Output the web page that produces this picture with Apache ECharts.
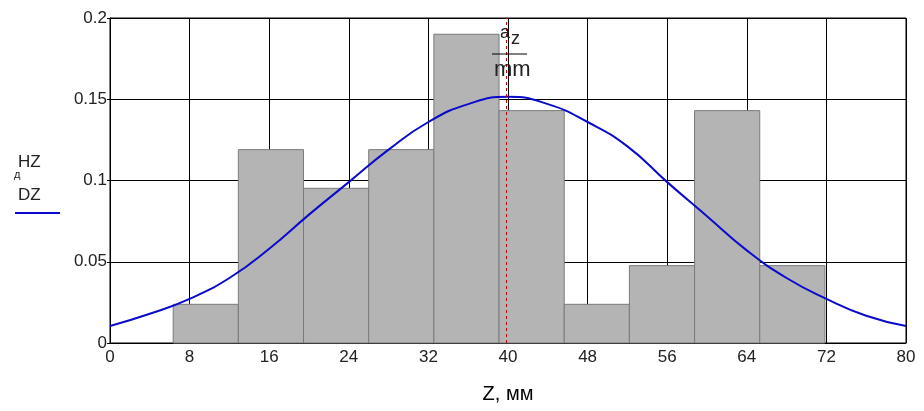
<!DOCTYPE html>
<html>
<head>
<meta charset="utf-8">
<script src="https://cdn.jsdelivr.net/npm/echarts@6/dist/echarts.min.js"></script>
<style>html,body{margin:0;padding:0;background:#fff;}#c{width:924px;height:411px;}</style>
</head>
<body>
<div id="c"></div>
<script>
// Histogram bins: left edge, right edge (mm), relative frequency
const binStart = [6.35, 12.9, 19.45, 26.0, 32.55, 39.1, 45.65, 52.2, 58.75, 65.3];
const binEnd   = [12.9, 19.45, 26.0, 32.55, 39.1, 45.65, 52.2, 58.75, 65.3, 71.85];
const binFreq  = [0.0238, 0.119, 0.0952, 0.119, 0.190, 0.143, 0.0238, 0.0476, 0.143, 0.0476];
// Density curve points
const curveZ = [0, 4, 8, 12, 16, 20, 24, 28, 32, 36, 40, 44, 48, 52, 56, 60, 64, 68, 72, 76, 80];
const curveV = [0.0105, 0.0180, 0.0272, 0.0400, 0.0580, 0.0790, 0.0990, 0.1190, 0.1360, 0.1470, 0.1515,
                0.1470, 0.1360, 0.1210, 0.0990, 0.0780, 0.0570, 0.0400, 0.0272, 0.0168, 0.0105];
const meanZ = 39.8;
const xTicks = [0, 8, 16, 24, 32, 40, 48, 56, 64, 72, 80];
const yTicks = [0, 0.05, 0.1, 0.15, 0.2];
const yTickLabels = ['0', '0.05', '0.1', '0.15', '0.2'];

const chart = echarts.init(document.getElementById('c'));
const font = 'Liberation Sans, Arial, sans-serif';
const txt = '#222';

const barData = binStart.map((s, i) => [s, binEnd[i], binFreq[i]]);
const lineData = curveZ.map((z, i) => [z, curveV[i]]);

chart.setOption({
  animation: false,
  grid: { left: 110, right: 18, top: 18, bottom: 68, show: true, borderColor: '#000', borderWidth: 1, containLabel: false },
  xAxis: {
    type: 'value', min: xTicks[0], max: xTicks[xTicks.length - 1], interval: 8,
    name: 'Z, мм', nameLocation: 'middle', nameGap: 41,
    nameTextStyle: { fontFamily: font, fontSize: 20, color: '#000' },
    axisLine: { show: true, lineStyle: { color: '#000', width: 1 } },
    axisTick: { show: false },
    axisLabel: { fontFamily: font, fontSize: 17, color: txt, margin: 6, formatter: v => String(v) },
    splitLine: { show: true, lineStyle: { color: '#000', width: 1 } }
  },
  yAxis: {
    type: 'value', min: 0, max: 0.2, interval: 0.05,
    axisLine: { show: true, lineStyle: { color: '#000', width: 1 } },
    axisTick: { show: true, length: 3, lineStyle: { color: '#000' } },
    axisLabel: { fontFamily: font, fontSize: 17, color: txt, margin: 3,
      formatter: v => { const i = yTicks.findIndex(t => Math.abs(t - v) < 1e-9); return i >= 0 ? yTickLabels[i] : ''; } },
    splitLine: { show: true, lineStyle: { color: '#000', width: 1 } }
  },
  series: [
    {
      type: 'custom',
      data: barData,
      encode: { x: [0, 1], y: 2 },
      renderItem: function (params, api) {
        const p0 = api.coord([api.value(0), api.value(2)]);
        const p1 = api.coord([api.value(1), 0]);
        return {
          type: 'rect',
          shape: { x: p0[0], y: p0[1], width: p1[0] - p0[0], height: p1[1] - p0[1] },
          style: { fill: '#b4b4b4', stroke: '#7a7a7a', lineWidth: 1 }
        };
      },
      z: 2
    },
    {
      type: 'line',
      data: lineData,
      smooth: true,
      showSymbol: false,
      lineStyle: { color: '#0a0acc', width: 2 },
      z: 4,
      markLine: {
        silent: true, symbol: 'none', label: { show: false },
        lineStyle: { color: '#cc0000', type: [3, 3], width: 1 },
        data: [{ xAxis: meanZ }]
      }
    }
  ],
  graphic: [
    { type: 'text', left: 18, top: 154, style: { text: 'HZ', font: '17px ' + font, fill: txt } },
    { type: 'text', left: 14, top: 169, style: { text: 'д', font: '11px ' + font, fill: txt } },
    { type: 'text', left: 18, top: 187, style: { text: 'DZ', font: '17px ' + font, fill: txt } },
    { type: 'line', shape: { x1: 15, y1: 213, x2: 60, y2: 213 }, style: { stroke: '#0a0acc', lineWidth: 2 } },
    { type: 'text', left: 500, top: 24, z: 10, style: { text: 'a', font: '18px ' + font, fill: txt } },
    { type: 'text', left: 511, top: 30, z: 10, style: { text: 'z', font: '18px ' + font, fill: txt } },
    { type: 'line', z: 10, shape: { x1: 492, y1: 54, x2: 527, y2: 54 }, style: { stroke: '#000', lineWidth: 1 } },
    { type: 'text', left: 494, top: 59, z: 10, style: { text: 'mm', font: '22px ' + font, fill: txt } }
  ]
});
</script>
</body>
</html>
